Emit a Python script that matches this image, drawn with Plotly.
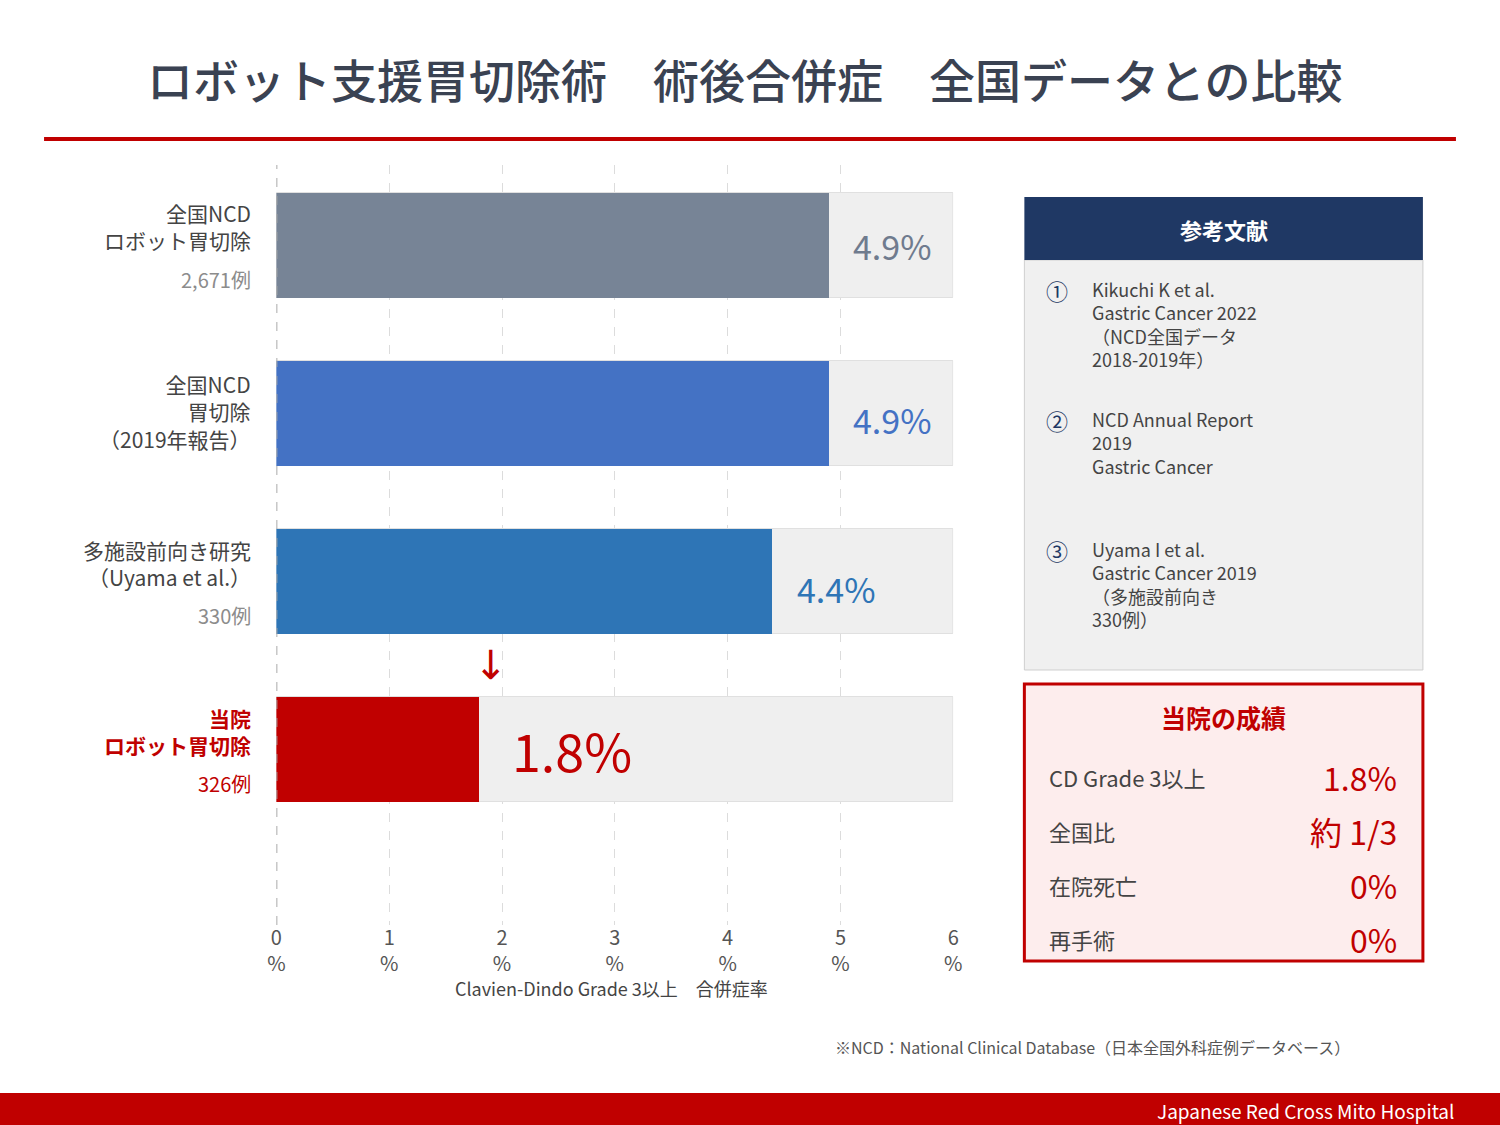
import plotly.graph_objects as go

W, H = 1500, 1125
FONT = "Noto Sans CJK JP, Lato, sans-serif"

# ---------------- data ----------------
categories_main = ["全国NCD<br>ロボット胃切除", "全国NCD<br>胃切除<br>（2019年報告）",
                   "多施設前向き研究<br>（Uyama et al.）", "<b>当院<br>ロボット胃切除</b>"]
case_counts = ["2,671例", "", "330例", "326例"]
rates = [4.9, 4.9, 4.4, 1.8]
rate_labels = ["4.9%", "4.9%", "4.4%", "1.8%"]
bar_colors = ["#778496", "#4472c4", "#2e75b6", "#c00000"]
label_colors = ["#6f7b8e", "#4472c4", "#2e75b6", "#c00000"]
cat_colors = ["#444444", "#444444", "#444444", "#c00000"]
count_colors = ["#8c8c8c", "#8c8c8c", "#8c8c8c", "#c00000"]
axis_max = 6
tick_values = [0, 1, 2, 3, 4, 5, 6]
tick_labels = [f"{v}<br>%" for v in tick_values]

ref_nums = ["①", "②", "③"]
ref_texts = [
    ["Kikuchi K et al.", "Gastric Cancer 2022", "（NCD全国データ", "2018-2019年）"],
    ["NCD Annual Report", "2019", "Gastric Cancer"],
    ["Uyama I et al.", "Gastric Cancer 2019", "（多施設前向き", "330例）"],
]
result_labels = ["CD Grade 3以上", "全国比", "在院死亡", "再手術"]
result_values = ["1.8%", "約 1/3", "0%", "0%"]

title_text = "ロボット支援胃切除術　術後合併症　全国データとの比較"
xaxis_title = "Clavien-Dindo Grade 3以上　合併症率"
footnote = "※NCD：National Clinical Database（日本全国外科症例データベース）"
footer = "Japanese Red Cross Mito Hospital"

# ---------------- helpers ----------------
PX0, PW = 10.0, 1480.0   # observed horizontal placement of the drawing area


def py(px):
    return 1 - px / H


def pxx(px):
    return (px - PX0) / PW


def txt(x, y, text, size, color, xa="center", ya="middle", **kw):
    return dict(x=pxx(x), y=py(y), xref="paper", yref="paper", text=text, showarrow=False,
                xanchor=xa, yanchor=ya, font=dict(size=size, color=color, family=FONT), **kw)


ypos = list(range(len(rates)))

fig = go.Figure()
fig.add_trace(go.Bar(
    x=[axis_max] * len(rates), y=ypos, orientation="h", width=0.625,
    marker=dict(color="#efefef", line=dict(color="#e0e0e0", width=1)),
    hoverinfo="skip", showlegend=False))
fig.add_trace(go.Bar(
    x=rates, y=ypos, orientation="h", width=0.625,
    marker=dict(color=bar_colors, line=dict(width=0)),
    showlegend=False))

ann = []
shapes = []

# value labels
label_sizes = [34, 34, 34, 52]
label_shift = [22, 22, 22, 31]
label_yshift = [0, -6, -7, 0]
for i, (v, t) in enumerate(zip(rates, rate_labels)):
    ann.append(dict(x=v, y=i, xref="x", yref="y", text=t, showarrow=False,
                    xanchor="left", yanchor="middle", xshift=label_shift[i],
                    yshift=label_yshift[i],
                    font=dict(size=label_sizes[i], color=label_colors[i], family=FONT)))

# category labels
main_shift = [19, 2, 18, 18]
for i, c in enumerate(categories_main):
    ann.append(dict(x=pxx(254), y=i, xref="paper", yref="y", text=c, showarrow=False,
                    xanchor="right", yanchor="middle", align="right", yshift=main_shift[i],
                    font=dict(size=21, color=cat_colors[i], family=FONT)))
    if case_counts[i]:
        ann.append(dict(x=pxx(254), y=i, xref="paper", yref="y", text=case_counts[i],
                        showarrow=False, xanchor="right", yanchor="middle", yshift=-34,
                        font=dict(size=20, color=count_colors[i], family=FONT)))

# arrow
ann.append(dict(x=rates[3] + 0.1, y=2.5, xref="x", yref="y", text="↓", showarrow=False,
                xanchor="center", yanchor="middle",
                font=dict(size=40, color="#c00000", family="DejaVu Sans")))

# axis title
ann.append(txt(612, 988, xaxis_title, 18, "#444444"))

# title
t = txt(745, 78, title_text, 46, "#3a4252")
t["font"]["weight"] = 500
ann.append(t)
shapes.append(dict(type="line", xref="paper", yref="paper", x0=pxx(45), x1=pxx(1455),
                   y0=py(139), y1=py(139), line=dict(color="#c00000", width=4)))

# zero line
shapes.append(dict(type="line", xref="x", yref="paper", x0=0, x1=0, y0=py(925), y1=py(165),
                   line=dict(color="#aaaaaa", width=2, dash="dash")))

# references panel
shapes.append(dict(type="rect", xref="paper", yref="paper", x0=pxx(1024), x1=pxx(1422),
                   y0=py(670), y1=py(260), fillcolor="#f0f0f0",
                   line=dict(color="#cfcfcf", width=1), layer="below"))
shapes.append(dict(type="rect", xref="paper", yref="paper", x0=pxx(1024), x1=pxx(1422),
                   y0=py(260), y1=py(197), fillcolor="#1f3864",
                   line=dict(width=0), layer="below"))
ann.append(txt(1223, 229, "<b>参考文献</b>", 22, "white"))
block_start = [290, 420, 550]
for k, (num, lines) in enumerate(zip(ref_nums, ref_texts)):
    ann.append(txt(1057, block_start[k], num, 22, "#1f3864"))
    center = block_start[k] + (len(lines) - 1) * 22.5 / 2
    ann.append(txt(1090, center, "<br>".join(lines), 18, "#444444", xa="left",
                   align="left"))

# results panel
shapes.append(dict(type="rect", xref="paper", yref="paper", x0=pxx(1024), x1=pxx(1422),
                   y0=py(961), y1=py(684), fillcolor="#fdeded",
                   line=dict(color="#c00000", width=3), layer="below"))
ann.append(txt(1223, 717, "<b>当院の成績</b>", 25, "#c00000"))
row_y = [777, 831, 885, 939]
for r, (lab, val) in enumerate(zip(result_labels, result_values)):
    ann.append(txt(1047, row_y[r], lab, 22, "#444444", xa="left"))
    ann.append(txt(1398, row_y[r], val, 32, "#c00000", xa="right"))

# footnote & footer
ann.append(txt(833, 1047, footnote, 16, "#555555", xa="left"))
shapes.append(dict(type="rect", xref="paper", yref="paper", x0=pxx(-20), x1=pxx(1520),
                   y0=0, y1=py(1093), fillcolor="#c00000", line=dict(width=0)))
ann.append(txt(1455, 1110, footer, 19, "white", xa="right"))

fig.update_layout(
    width=W, height=H, autosize=False,
    margin=dict(l=0, r=0, t=0, b=0),
    paper_bgcolor="white", plot_bgcolor="white",
    barmode="overlay", bargap=0,
    font=dict(family=FONT, color="#444444"),
    annotations=ann, shapes=shapes,
    xaxis=dict(domain=[pxx(277), pxx(953)], range=[0, axis_max], tickvals=tick_values,
               ticktext=tick_labels, showgrid=True, gridcolor="#dcdcdc", griddash="dash",
               gridwidth=1, zeroline=False, showline=False, ticks="",
               ticklabelstandoff=-1,
               tickfont=dict(size=20, color="#555555", family=FONT)),
    yaxis=dict(domain=[py(925), py(165)], range=[4.045, -0.479], showticklabels=False,
               showgrid=False, zeroline=False, showline=False, ticks=""),
)

fig.write_html("out.html", config={"displayModeBar": False},
               post_script="document.body.style.margin='0';document.body.style.overflow='hidden';")
